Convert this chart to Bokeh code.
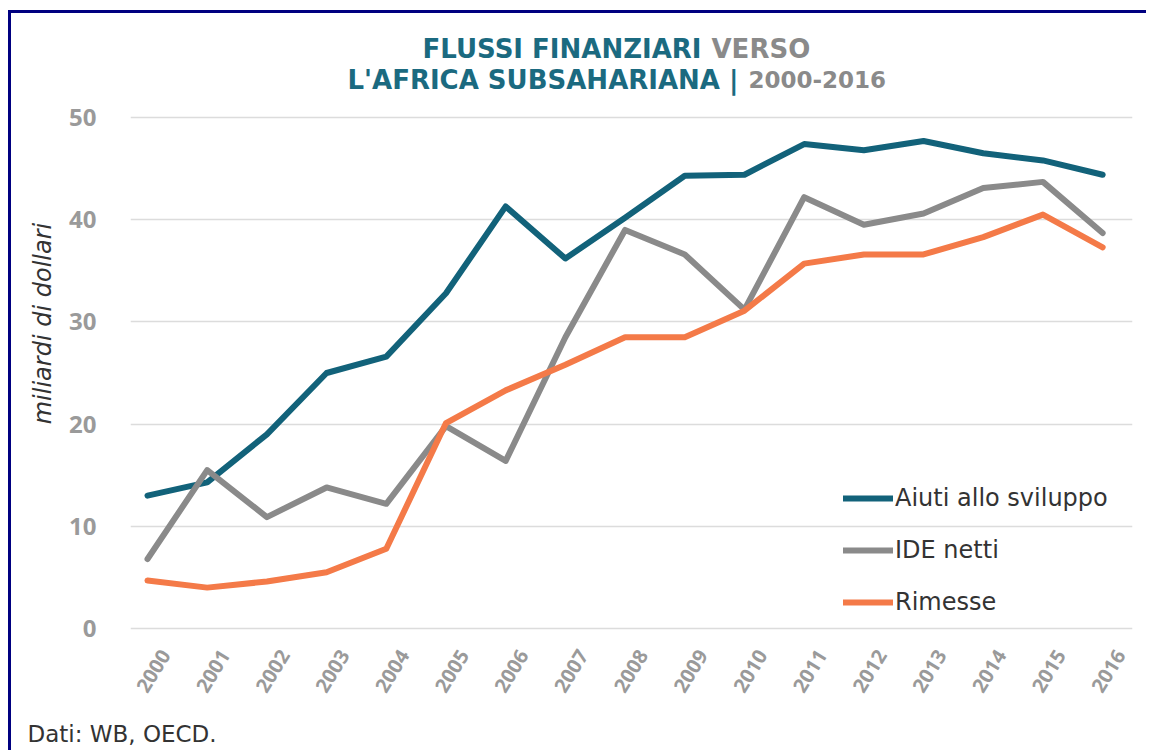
import math
from bokeh.plotting import figure
from bokeh.models import (Range1d, FixedTicker, Label, Legend, LegendItem, LinearAxis, Title)
from bokeh.embed import file_html
from bokeh.resources import INLINE

years = list(range(2000, 2017))
aiuti = [13.0, 14.3, 19.0, 25.0, 26.6, 32.8, 41.3, 36.2, 40.2, 44.3, 44.4, 47.4, 46.8, 47.7, 46.5, 45.8, 44.4]
ide = [6.8, 15.5, 10.9, 13.8, 12.2, 19.8, 16.4, 28.5, 39.0, 36.6, 31.2, 42.2, 39.5, 40.6, 43.1, 43.7, 38.7]
rimesse = [4.7, 4.0, 4.6, 5.5, 7.8, 20.1, 23.3, 25.8, 28.5, 28.5, 31.1, 35.7, 36.6, 36.6, 38.3, 40.5, 37.3]
series_names = ["Aiuti allo sviluppo", "IDE netti", "Rimesse"]
y_ticks = [0, 10, 20, 30, 40, 50]

TEAL = "#12627a"
TITLE_TEAL = "#1b6a80"
GRAY = "#8a8a8a"
ORANGE = "#f47a48"
TICK_GRAY = "#9a9a9a"
TEXT = "#333333"
WFONT = "DejaVu Sans"
FONT = "Open Sans"

# host at page (0,0): margin 8/10 + 3px border -> content at (11, 13)
W, H = 1138, 740
X0, X1 = 1999.715, 2016.5
p = figure(width=W, height=H, output_backend="svg", toolbar_location=None,
           title_location=None, x_axis_type=None,
           x_range=Range1d(X0, X1), y_range=Range1d(-0.489, 60.176),
           min_border_left=119, min_border_right=17, min_border_top=0, min_border_bottom=120)
p.outline_line_color = None
p.background_fill_color = "white"
p.border_fill_color = "white"
p.styles = {"margin-left": "8px", "margin-top": "10px",
            "border-top": "3px solid #000080", "border-left": "3px solid #000080"}

p.xgrid.grid_line_color = None
p.ygrid.grid_line_color = "#dcdcdc"
p.ygrid.grid_line_width = 1.5
p.ygrid.ticker = FixedTicker(ticks=y_ticks)

yax = p.yaxis[0]
yax.ticker = FixedTicker(ticks=y_ticks)
yax.axis_line_color = None
yax.major_tick_line_color = None
yax.minor_tick_line_color = None
yax.major_label_text_color = TICK_GRAY
yax.major_label_text_font = FONT
yax.major_label_text_font_style = "bold"
yax.major_label_text_font_size = "24px"
yax.major_label_standoff = 28
yax.axis_label = "miliardi di dollari"
yax.axis_label_text_font = WFONT
yax.axis_label_text_font_style = "italic"
yax.axis_label_text_font_size = "24px"
yax.axis_label_text_color = TEXT
yax.axis_label_standoff = 9

# x axis on a slightly shifted range so the rotated year labels sit like the reference
SHIFT = 0.3
p.extra_x_ranges["labels"] = Range1d(X0 - SHIFT, X1 - SHIFT)
xax = LinearAxis(x_range_name="labels", ticker=FixedTicker(ticks=years))
xax.axis_line_color = None
xax.major_tick_line_color = None
xax.minor_tick_line_color = None
xax.major_label_text_color = TICK_GRAY
xax.major_label_text_font = FONT
xax.major_label_text_font_style = "bold"
xax.major_label_text_font_size = "20px"
xax.major_label_orientation = 1.02
xax.major_label_standoff = 12
p.add_layout(xax, "below")

# tiny spacer row, then the source note
p.add_layout(Title(text=" ", text_font_size="1px"), "below")
p.add_layout(Title(text="Dati: WB, OECD.", align="left", offset=-103,
                   text_font=WFONT, text_font_style="normal", text_font_size="23px",
                   text_color=TEXT), "below")

r1 = p.line(years, aiuti, line_color=TEAL, line_width=6, line_cap="round", line_join="round")
r2 = p.line(years, ide, line_color=GRAY, line_width=6, line_cap="round", line_join="round")
r3 = p.line(years, rimesse, line_color=ORANGE, line_width=6, line_cap="round", line_join="round")

legend = Legend(items=[LegendItem(label=series_names[0], renderers=[r1]),
                       LegendItem(label=series_names[1], renderers=[r2]),
                       LegendItem(label=series_names[2], renderers=[r3])],
                location=(713, 17), border_line_color=None, background_fill_alpha=0,
                padding=0, margin=0, spacing=24, glyph_width=50, glyph_height=20,
                label_height=20, label_standoff=2, label_text_font=WFONT,
                label_text_font_size="24px", label_text_color=TEXT)
p.add_layout(legend)

# title texts in screen units relative to frame (x from frame left, y up from frame bottom)
FL, FB = 130, 633  # page position of frame left / bottom

def lab(text, px, py, color, size, font, style="bold", align="left"):
    p.add_layout(Label(x=px - FL, y=FB - py, x_units="screen", y_units="screen", text=text,
                       text_color=color, text_font=font, text_font_size=size,
                       text_font_style=style, text_align=align, text_baseline="alphabetic"))

lab("FLUSSI FINANZIARI", 701, 48, TITLE_TEAL, "26px", WFONT, align="right")
lab("VERSO", 711, 48, GRAY, "26px", WFONT)
lab("L'AFRICA SUBSAHARIANA |", 738, 79, TITLE_TEAL, "26px", WFONT, align="right")
lab("2000-2016", 748, 79, GRAY, "23px", WFONT)

open("out.html", "w").write(file_html(p, INLINE))
